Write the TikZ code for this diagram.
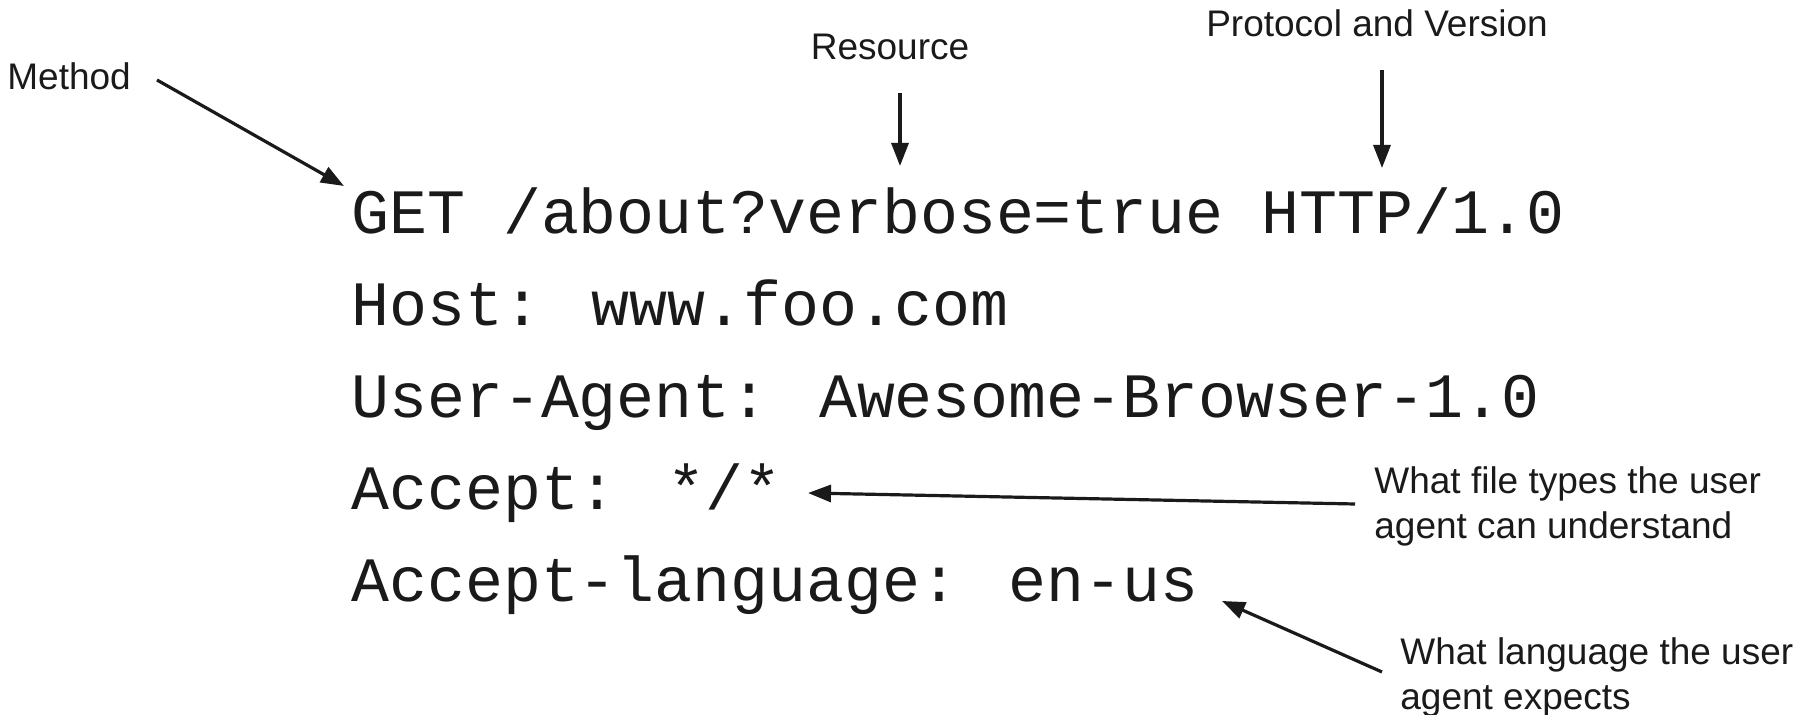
\documentclass[tikz,border=0pt]{standalone}
\usepackage{fontspec}
\setmainfont{Liberation Sans}
\newfontfamily\codefont{Liberation Mono}
\usetikzlibrary{arrows.meta}
\definecolor{ink}{HTML}{1A1A1A}
\tikzset{
  codeline/.style={anchor=base west, inner sep=0pt, font=\codefont\fontsize{31.6pt}{38pt}\selectfont, text=ink},
  label/.style={anchor=base west, inner sep=0pt, font=\fontsize{18.5pt}{22.5pt}\selectfont, text=ink, align=left},
  pointer/.style={draw=ink, line width=1.6pt, -{Triangle[length=11.5pt, width=8.5pt]}}
}
\begin{document}
\begin{tikzpicture}[x=0.5pt, y=-0.5pt]
\useasboundingbox (0,0) rectangle (1816,715);
% request lines
\node[codeline] (l1) at (351,234) {GET /about?verbose=true HTTP/1.0};
\node[codeline] (l2) at (351,326) {Host: www.foo.com};
\node[codeline] (l3) at (351,418) {User-Agent: Awesome-Browser-1.0};
\node[codeline] (l4) at (351,510) {Accept: */*};
\node[codeline] (l5) at (351,602) {Accept-language: en-us};
% labels
\node[label] (method) at (7,90) {Method};
\node[label, anchor=base] (resource) at (890,60) {Resource};
\node[label, anchor=base] (proto) at (1377,37) {Protocol and Version};
\node[label] (types) at (1374,539) {What file types the user\\agent can understand};
\node[label] (lang) at (1400,710) {What language the user\\agent expects};
% arrow ends
\coordinate (m0) at (157,80);   \coordinate (m1) at (344,186);
\coordinate (r0) at (900,93);   \coordinate (r1) at (900,166);
\coordinate (p0) at (1382,70);  \coordinate (p1) at (1382,168);
\coordinate (a0) at (1355,504); \coordinate (a1) at (808,493);
\coordinate (g0) at (1382,672); \coordinate (g1) at (1222,601);
\draw[pointer] (m0) -- (m1);
\draw[pointer] (r0) -- (r1);
\draw[pointer] (p0) -- (p1);
\draw[pointer] (a0) -- (a1);
\draw[pointer] (g0) -- (g1);
\end{tikzpicture}
\end{document}
